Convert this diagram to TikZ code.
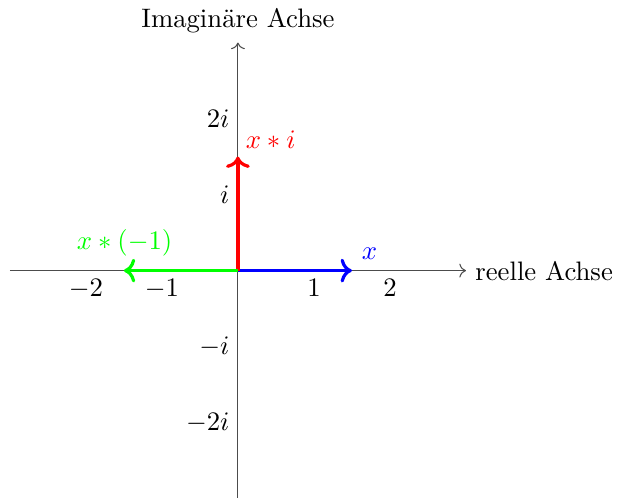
\documentclass[tikz,border=0pt]{standalone}
\usepackage{tikz}
\usetikzlibrary{arrows.meta,positioning}

\begin{document}
\begin{tikzpicture}[font=\normalsize,>=To,
axis/.style={->,black!70,thin},
vec/.style={->,very thick},
tick/.style={inner sep=3pt}]
\useasboundingbox (-3.13,-2.99) rectangle (5.0,3.56);
\coordinate (O) at (0,0);
\coordinate (xmin) at (-3,0);
\coordinate (xmax) at (3,0);
\coordinate (ymin) at (0,-3);
\coordinate (ymax) at (0,3);
% axes
\draw[axis] (xmin) -- (xmax) node[right,black] (re) {reelle Achse};
\draw[axis] (ymin) -- (ymax) node[above,black] (im) {Imagin\"are Achse};
% tick labels
\foreach \k in {-2,-1,1,2} {
  \node[tick,below] (xt\k) at (\k,0) {$\k$};
}
\node[tick,left] (yt1) at (0,1) {$i$};
\node[tick,left] (yt2) at (0,2) {$2i$};
\node[tick,left] (ytm1) at (0,-1) {$-i$};
\node[tick,left] (ytm2) at (0,-2) {$-2i$};
% vectors
\coordinate (xv) at (1.5,0);
\coordinate (iv) at (0,1.5);
\coordinate (mv) at (-1.5,0);
\draw[vec,blue] (O) -- (xv);
\draw[vec,red] (O) -- (iv);
\draw[vec,green] (O) -- (mv);
\node[blue] (xl) at (1.73,0.22) {$x$};
\node[red] (il) at (0.43,1.72) {$x*i$};
\node[green] (ml) at (-1.49,0.36) {$x*(-1)$};
\end{tikzpicture}
\end{document}
